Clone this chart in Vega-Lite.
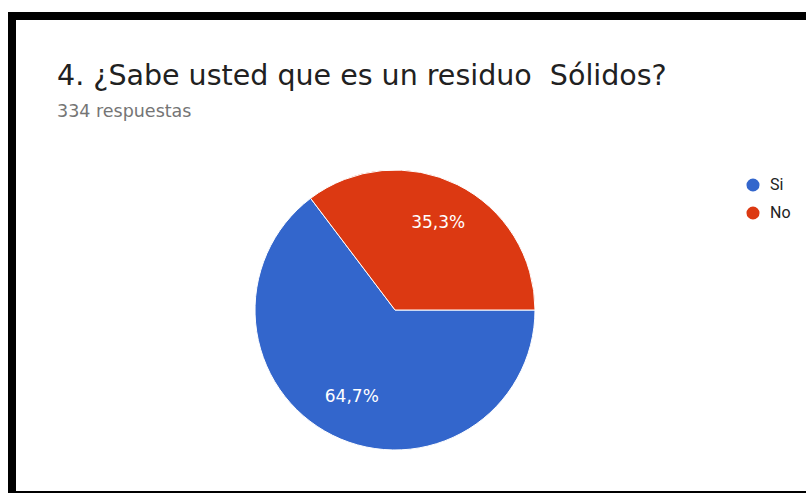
{
  "$schema": "https://vega.github.io/schema/vega-lite/v6.json",
  "autosize": "none",
  "width": 820,
  "height": 479,
  "padding": {"left": 12, "top": 16, "right": 0, "bottom": 0},
  "background": "white",
  "view": {"stroke": "black", "strokeWidth": 8, "fill": null},
  "title": {
    "text": "4. ¿Sabe usted que es un residuo\u00a0 Sólidos?",
    "subtitle": "334 respuestas",
    "anchor": "start",
    "frame": "group",
    "dx": 45,
    "dy": 108,
    "font": "DejaVu Sans",
    "fontSize": 28.5,
    "fontWeight": "normal",
    "color": "#212121",
    "subtitleFont": "DejaVu Sans",
    "subtitleFontSize": 17.5,
    "subtitleColor": "#757575",
    "subtitlePadding": 12
  },
  "data": {
    "values": [
      {"respuesta": "Si", "pct": 64.7, "label": "64,7%", "orden": 1},
      {"respuesta": "No", "pct": 35.3, "label": "35,3%", "orden": 2}
    ]
  },
  "encoding": {
    "theta": {"field": "pct", "type": "quantitative", "stack": true, "scale": {"range": [1.5708, 7.8540]}},
    "order": {"field": "orden", "type": "quantitative"}
  },
  "layer": [
    {
      "mark": {"type": "arc", "outerRadius": 140, "x": 383, "y": 294, "stroke": "white", "strokeWidth": 1},
      "encoding": {
        "color": {
          "field": "respuesta",
          "type": "nominal",
          "sort": ["Si", "No"],
          "scale": {"domain": ["Si", "No"], "range": ["#3366CC", "#DC3912"]},
          "legend": {
            "title": null,
            "orient": "none",
            "legendX": 733,
            "legendY": 161,
            "padding": 0,
            "symbolType": "circle",
            "symbolSize": 170,
            "symbolStrokeWidth": 0,
            "labelFont": "Roboto",
            "labelFontSize": 16,
            "labelColor": "#222222",
            "labelOffset": 9,
            "rowPadding": 12
          }
        }
      }
    },
    {
      "mark": {"type": "text", "radius": 97, "x": 383, "y": 294, "font": "DejaVu Sans", "fontSize": 17, "color": "white"},
      "encoding": {
        "text": {"field": "label", "type": "nominal"}
      }
    }
  ]
}
